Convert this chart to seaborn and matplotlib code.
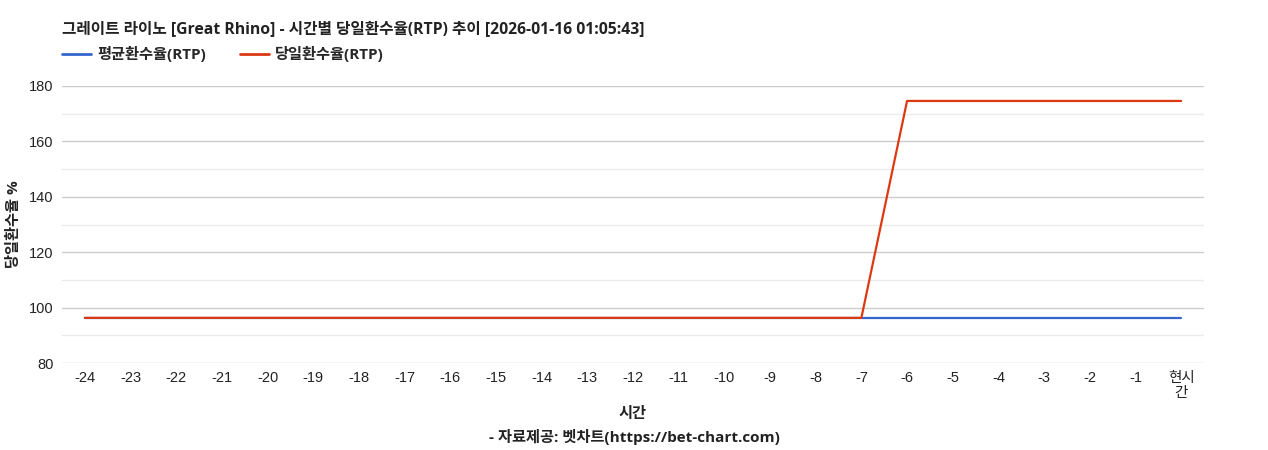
import pandas as pd
import seaborn as sns
from matplotlib import pyplot as plt
from matplotlib.ticker import MultipleLocator

# hours before now, last one is "now"
hours = ["-24", "-23", "-22", "-21", "-20", "-19", "-18", "-17", "-16", "-15", "-14", "-13",
         "-12", "-11", "-10", "-9", "-8", "-7", "-6", "-5", "-4", "-3", "-2", "-1", "현시\n간"]
avg_rtp = [96.3] * 25
daily_rtp = [96.3] * 18 + [174.6] * 7

series_names = ["평균환수율(RTP)", "당일환수율(RTP)"]
colors = ["#3366cc", "#dc3912"]

sns.set_theme(style="white")
plt.rcParams['font.family'] = ['Open Sans', 'Noto Sans CJK KR', 'DejaVu Sans']
tick_font = ['Liberation Sans', 'Noto Sans CJK KR', 'DejaVu Sans']

df = pd.DataFrame({
    "pos": list(range(len(hours))) * 2,
    "rtp": avg_rtp + daily_rtp,
    "series": [series_names[0]] * len(hours) + [series_names[1]] * len(hours),
})

fig = plt.figure(figsize=(12.68, 4.5), dpi=100)
ax = fig.add_axes([0.0489, 0.1933, 0.9006, 0.6156])

sns.lineplot(data=df, x="pos", y="rtp", hue="series", palette=colors,
             hue_order=series_names, linewidth=1.6, ax=ax, legend=False)

ax.set_xlim(-0.5, len(hours) - 0.5)
ax.set_ylim(80, 180)
ax.yaxis.set_major_locator(MultipleLocator(20))
ax.yaxis.set_minor_locator(MultipleLocator(10))
ax.grid(which="major", axis="y", color="#cccccc", linewidth=1)
ax.grid(which="minor", axis="y", color="#ebebeb", linewidth=1)
ax.set_axisbelow(True)
sns.despine(ax=ax, left=True, bottom=True, top=True, right=True)

ax.set_xticks(range(len(hours)))
ax.set_xticklabels(hours, fontsize=10.5, color="#222222", linespacing=1.05, family=tick_font)
for lbl in ax.get_yticklabels():
    lbl.set_family(tick_font)
ax.tick_params(axis="y", labelsize=10.5, colors="#222222", length=0, pad=6)
ax.tick_params(axis="x", length=0, pad=6)

ax.set_xlabel("시간", fontsize=11, fontweight="bold", color="#222222")
ax.xaxis.set_label_coords(0.5, -(414 - 363) / 277, transform=ax.transAxes)
ax.xaxis.label.set_verticalalignment("center")
ax.set_ylabel("당일환수율 %", fontsize=11, fontweight="bold", color="#222222")
ax.yaxis.set_label_coords(-(62 - 14) / 1142, 0.5, transform=ax.transAxes)
ax.yaxis.label.set_verticalalignment("center")

fig.text(62 / 1268, 1 - 30 / 450, "그레이트 라이노 [Great Rhino] - 시간별 당일환수율(RTP) 추이 [2026-01-16 01:05:43]",
         fontsize=11.3, fontweight="bold", color="#222222", va="center", ha="left")
fig.text(0.5, 1 - 437 / 450, "- 자료제공: 벳차트(https://bet-chart.com)",
         fontsize=11, fontweight="bold", color="#222222", va="center", ha="center")

handles = [plt.Line2D([], [], color=c, linewidth=2) for c in colors]
fig.legend(handles, series_names, loc="center left", bbox_to_anchor=(62 / 1268, 1 - 54 / 450),
           ncol=2, frameon=False, handlelength=1.9, handletextpad=0.4, columnspacing=2.2,
           borderpad=0, borderaxespad=0, prop={"weight": "bold", "size": 11})

fig.savefig("out.png", dpi=100)
